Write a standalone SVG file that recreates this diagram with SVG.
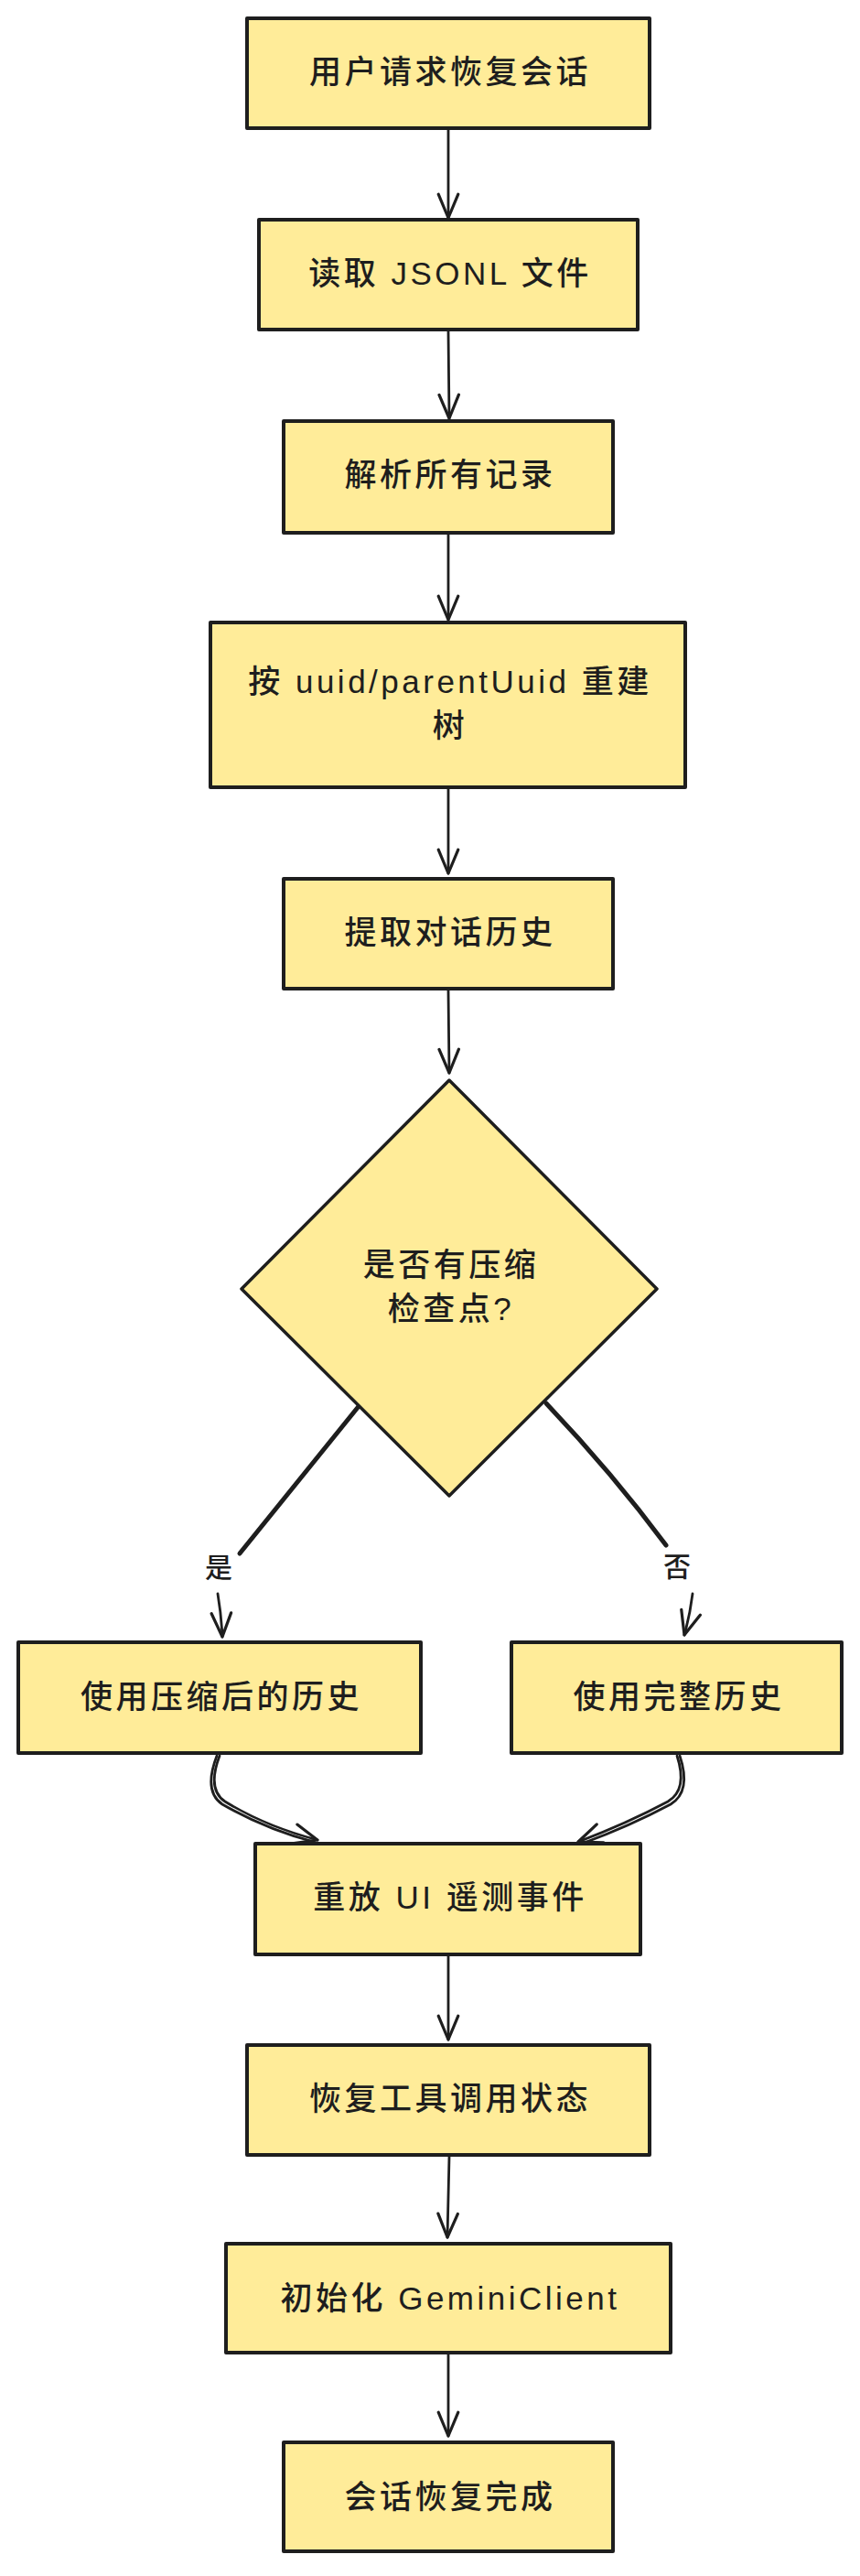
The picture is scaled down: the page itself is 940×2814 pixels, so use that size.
<svg xmlns="http://www.w3.org/2000/svg" width="940" height="2814" viewBox="0 0 940 2814">
<style>
.box{fill:#ffec99;stroke:#1e1e1e;stroke-width:4;stroke-linejoin:round}
.dia{fill:#ffec99;stroke:#1e1e1e;stroke-width:3.5;stroke-linejoin:round}
.t{font-family:"Liberation Sans","Noto Sans CJK SC",sans-serif;font-size:35px;font-weight:500;fill:#1e1e1e;text-anchor:middle;dominant-baseline:central;letter-spacing:3.5px}
.lbl{font-family:"Liberation Sans","Noto Sans CJK SC",sans-serif;font-size:30px;font-weight:500;fill:#1e1e1e;text-anchor:middle;dominant-baseline:central}
.c{fill:none;stroke:#1e1e1e;stroke-width:2.8;stroke-linecap:round;stroke-linejoin:round}
.cw{fill:none;stroke:#1e1e1e;stroke-width:5;stroke-linecap:round;stroke-linejoin:round}
</style>
<defs>
<marker id="ah" markerUnits="userSpaceOnUse" markerWidth="30" markerHeight="30" viewBox="-26 -13 28 26" refX="0" refY="0" orient="auto">
<path d="M-24,-10 L0,0 L-24,10" fill="none" stroke="#1e1e1e" stroke-width="3" stroke-linecap="round" stroke-linejoin="round"/>
</marker>
</defs>
<rect width="940" height="2814" fill="#ffffff"/>
<g id="connectors">
<path class="c" marker-end="url(#ah)" d="M490,142 L490,238"/>
<path class="c" marker-end="url(#ah)" d="M490,362 L491,457"/>
<path class="c" marker-end="url(#ah)" d="M490,584 L490,677"/>
<path class="c" marker-end="url(#ah)" d="M490,862 L490,954"/>
<path class="c" marker-end="url(#ah)" d="M490,1082 L491,1172"/>
<path class="cw" d="M393,1535 L262,1697"/>
<text class="lbl" x="239" y="1712">是</text>
<path class="c" marker-end="url(#ah)" d="M238,1741 Q242,1765 243,1788"/>
<path class="cw" d="M597,1533 Q670,1610 728,1688"/>
<text class="lbl" x="740" y="1711">否</text>
<path class="c" marker-end="url(#ah)" d="M757,1741 Q754,1765 748,1786"/>
<path class="c" marker-end="url(#ah)" d="M240,1918 Q226,1955 246,1968 Q290,1995 347,2010"/>
<path class="c" d="M237,1918 Q222,1957 243,1971 Q290,1998 343,2012"/>
<path class="c" marker-end="url(#ah)" d="M740,1918 Q752,1955 730,1968 Q685,1992 632,2012"/>
<path class="c" d="M743,1918 Q756,1957 733,1971 Q688,1995 636,2014"/>
<path class="c" marker-end="url(#ah)" d="M490,2137 L490,2228"/>
<path class="c" marker-end="url(#ah)" d="M491,2356 L489,2444"/>
<path class="c" marker-end="url(#ah)" d="M490,2572 L490,2661"/>
</g>
<g id="n1">
<rect class="box" x="270" y="20" width="440" height="120"/>
<text class="t" x="492" y="78">用户请求恢复会话</text>
</g>
<g id="n2">
<rect class="box" x="283" y="240" width="414" height="120"/>
<text class="t" x="492" y="298">读取 JSONL 文件</text>
</g>
<g id="n3">
<rect class="box" x="310" y="460" width="360" height="122"/>
<text class="t" x="492" y="518">解析所有记录</text>
</g>
<g id="n4">
<rect class="box" x="230" y="680" width="519" height="180"/>
<text class="t" x="492" y="744">按 uuid/parentUuid 重建</text>
<text class="t" x="492" y="792">树</text>
</g>
<g id="n5">
<rect class="box" x="310" y="960" width="360" height="120"/>
<text class="t" x="492" y="1018">提取对话历史</text>
</g>
<g id="n6">
<path class="dia" d="M491,1180 L718,1408 L491,1634 L264,1408 Z"/>
<text class="t" x="493" y="1381">是否有压缩</text>
<text class="t" x="493" y="1429">检查点?</text>
</g>
<g id="n7">
<rect class="box" x="20" y="1794" width="440" height="121"/>
<text class="t" x="242" y="1853">使用压缩后的历史</text>
</g>
<g id="n8">
<rect class="box" x="559" y="1794" width="361" height="121"/>
<text class="t" x="742" y="1853">使用完整历史</text>
</g>
<g id="n9">
<rect class="box" x="279" y="2014" width="421" height="121"/>
<text class="t" x="492" y="2072">重放 UI 遥测事件</text>
</g>
<g id="n10">
<rect class="box" x="270" y="2234" width="440" height="120"/>
<text class="t" x="492" y="2292">恢复工具调用状态</text>
</g>
<g id="n11">
<rect class="box" x="247" y="2451" width="486" height="119"/>
<text class="t" x="492" y="2510">初始化 GeminiClient</text>
</g>
<g id="n12">
<rect class="box" x="310" y="2668" width="360" height="119"/>
<text class="t" x="492" y="2727">会话恢复完成</text>
</g>
</svg>
